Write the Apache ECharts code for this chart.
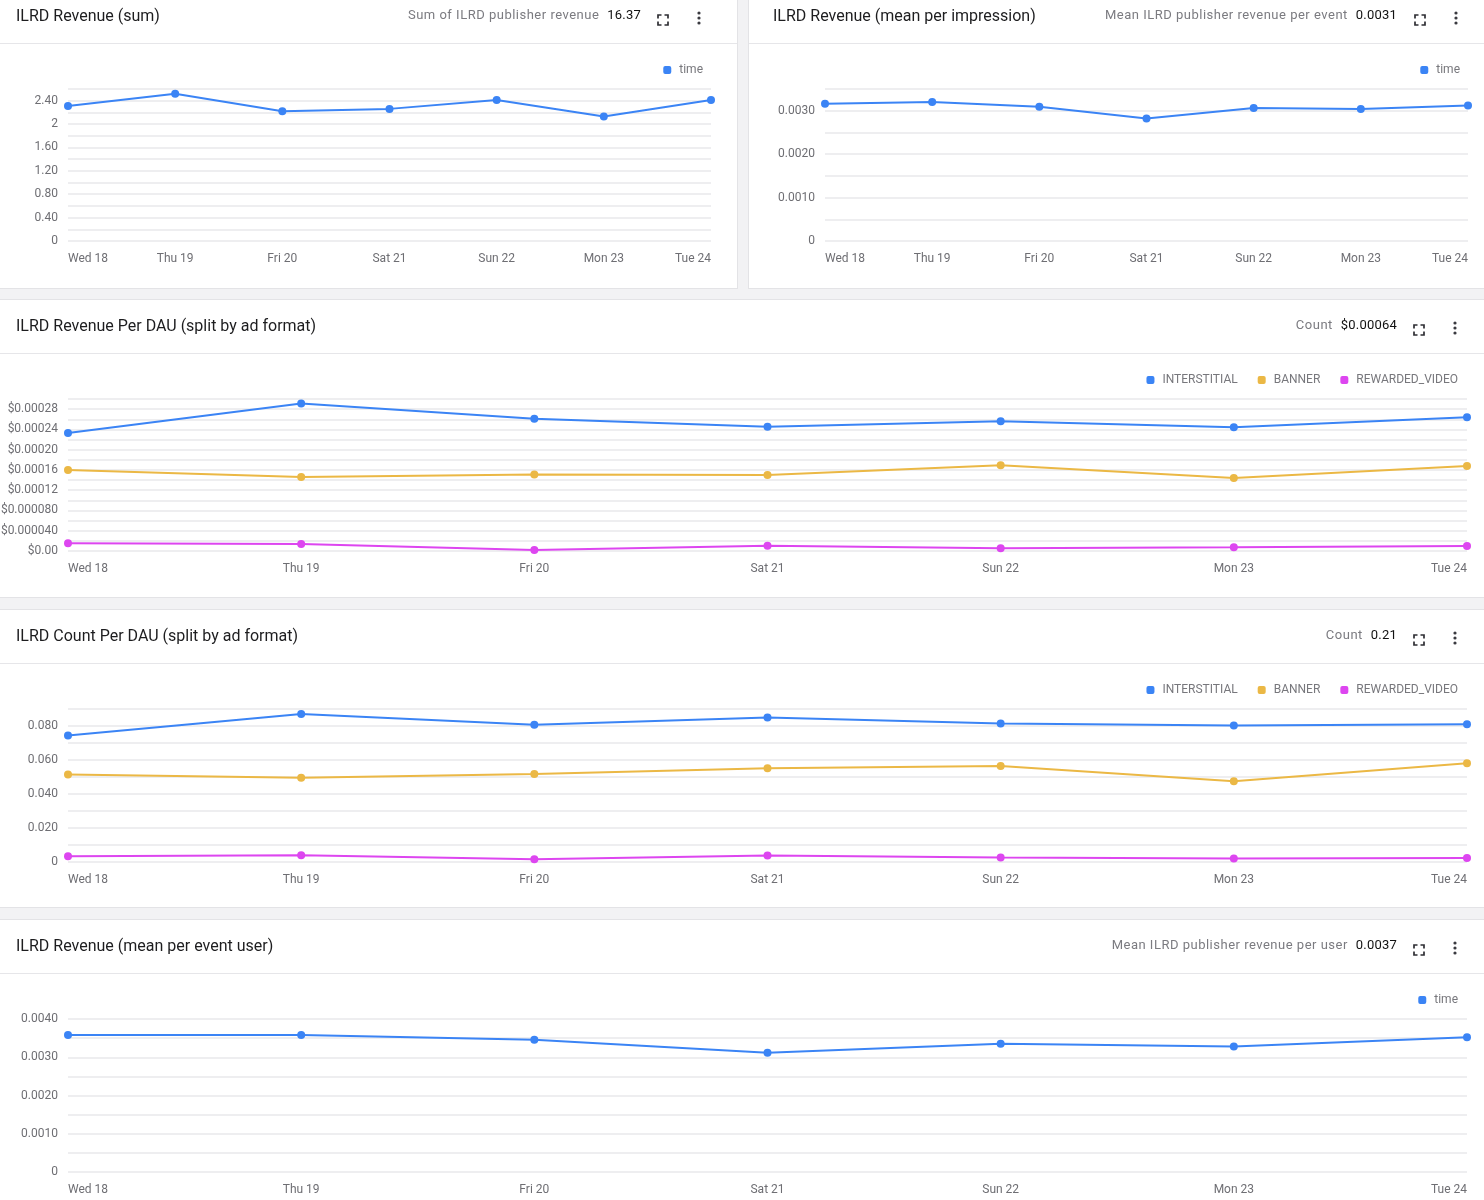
<!DOCTYPE html>
<html>
<head>
<meta charset="utf-8">
<script src="https://cdn.jsdelivr.net/npm/echarts@6/dist/echarts.min.js"></script>
<style>
  html, body { margin: 0; padding: 0; }
  body { width: 1484px; height: 1200px; background: #f2f2f4; position: relative; overflow: hidden; font-family: Roboto, "Noto Sans", sans-serif; }
  .panel { position: absolute; background: #fff; outline: 1px solid #e3e3e6; }
  .chart { position: absolute; left: 0; top: 0; width: 100%; height: 100%; }
  .hline { position: absolute; left: 0; right: 0; height: 1px; background: #e6e6e9; z-index: 2; }
  .title { position: absolute; font-size: 16px; line-height: 20px; color: #1d1d1f; white-space: nowrap; z-index: 3; }
  .meta { position: absolute; font-size: 13px; line-height: 20px; white-space: nowrap; z-index: 3; display: flex; gap: 8px; }
  .meta .lab { color: #7b7b80; letter-spacing: 0.5px; }
  .meta .val { color: #111; letter-spacing: 0.2px; }
  .ico { position: absolute; z-index: 3; }
</style>
</head>
<body>
<script>
// ---------------- data ----------------
const days = ['Wed 18', 'Thu 19', 'Fri 20', 'Sat 21', 'Sun 22', 'Mon 23', 'Tue 24'];

// ILRD Revenue (sum)
const revenueSum = [2.31, 2.52, 2.22, 2.26, 2.41, 2.13, 2.41];
// ILRD Revenue (mean per impression)
const revenueMeanImpression = [0.00316, 0.00320, 0.00309, 0.00282, 0.00306, 0.00304, 0.00312];
// ILRD Revenue Per DAU (split by ad format)
const revDauInterstitial = [0.000233, 0.000291, 0.000261, 0.000245, 0.000256, 0.000244, 0.000264];
const revDauBanner = [0.000160, 0.000146, 0.000151, 0.000150, 0.000169, 0.000144, 0.000168];
const revDauRewarded = [0.0000152, 0.0000138, 0.0000020, 0.0000105, 0.0000053, 0.0000073, 0.0000099];
// ILRD Count Per DAU (split by ad format)
const cntDauInterstitial = [0.0744, 0.0870, 0.0807, 0.0850, 0.0815, 0.0803, 0.0811];
const cntDauBanner = [0.0514, 0.0496, 0.0518, 0.0552, 0.0565, 0.0475, 0.0581];
const cntDauRewarded = [0.0034, 0.0039, 0.0016, 0.0038, 0.0026, 0.0020, 0.0024];
// ILRD Revenue (mean per event user)
const revenueMeanUser = [0.00358, 0.00358, 0.00346, 0.00312, 0.00335, 0.00328, 0.00352];

// header texts
const panels = [
  { title: 'ILRD Revenue (sum)', lab: 'Sum of ILRD publisher revenue', val: '16.37' },
  { title: 'ILRD Revenue (mean per impression)', lab: 'Mean ILRD publisher revenue per event', val: '0.0031' },
  { title: 'ILRD Revenue Per DAU (split by ad format)', lab: 'Count', val: '$0.00064' },
  { title: 'ILRD Count Per DAU (split by ad format)', lab: 'Count', val: '0.21' },
  { title: 'ILRD Revenue (mean per event user)', lab: 'Mean ILRD publisher revenue per user', val: '0.0037' }
];
const formatNames = ['INTERSTITIAL', 'BANNER', 'REWARDED_VIDEO'];
// ---------------------------------------

const C_BLUE = '#3b84f5', C_GOLD = '#ebb845', C_MAG = '#dd46f0';
const FONT = 'Roboto';

// layout: page rects and header geometry
const layout = [
  { x: 0,   y: 0,   w: 737,  h: 288, hdr: 43, tx: 16, ty: 6,  valEnd: 641,  icoX: 663,  kebX: 699,  icoY: 17,
    grid: { left: 68, right: 26, top: 89, bottom: 47 }, leg: { right: 34, top: 64 } },
  { x: 749, y: 0,   w: 735,  h: 288, hdr: 43, tx: 24, ty: 6,  valEnd: 1397 - 749, icoX: 1420 - 749, kebX: 1456 - 749, icoY: 17,
    grid: { left: 76, right: 16, top: 89, bottom: 47 }, leg: { right: 24, top: 64 } },
  { x: 0,   y: 300, w: 1484, h: 297, hdr: 53, tx: 16, ty: 16, valEnd: 1397, icoX: 1419, kebX: 1455, icoY: 27,
    grid: { left: 68, right: 17, top: 99, bottom: 46 }, leg: { right: 26, top: 74 } },
  { x: 0,   y: 610, w: 1484, h: 297, hdr: 53, tx: 16, ty: 16, valEnd: 1397, icoX: 1419, kebX: 1455, icoY: 27,
    grid: { left: 68, right: 17, top: 99, bottom: 45 }, leg: { right: 26, top: 74 } },
  { x: 0,   y: 920, w: 1484, h: 280, hdr: 53, tx: 16, ty: 16, valEnd: 1397, icoX: 1419, kebX: 1455, icoY: 27,
    grid: { left: 68, right: 17, top: 99, bottom: 28 }, leg: { right: 26, top: 74 } }
];

const expandSvg = '<svg width="12" height="12" viewBox="0 0 12 12"><path d="M1 4.5V1h3.5M7.5 1H11v3.5M11 7.5V11H7.5M4.5 11H1V7.5" fill="none" stroke="#2e2e33" stroke-width="1.7"/></svg>';
const kebabSvg = '<svg width="4" height="14" viewBox="0 0 4 14"><circle cx="2" cy="2" r="1.6" fill="#3a3a40"/><circle cx="2" cy="7" r="1.6" fill="#3a3a40"/><circle cx="2" cy="12" r="1.6" fill="#3a3a40"/></svg>';

const chartDivs = [];
layout.forEach((L, i) => {
  const p = document.createElement('div');
  p.className = 'panel';
  p.style.left = L.x + 'px'; p.style.top = L.y + 'px';
  p.style.width = L.w + 'px'; p.style.height = L.h + 'px';
  const P = panels[i];
  p.innerHTML =
    '<div class="chart"></div>' +
    '<div class="hline" style="top:' + L.hdr + 'px"></div>' +
    '<div class="title" style="left:' + L.tx + 'px;top:' + L.ty + 'px">' + P.title + '</div>' +
    '<div class="meta" style="right:' + (L.w - L.valEnd) + 'px;top:' + (L.ty - 1) + 'px"><span class="lab">' + P.lab + '</span><span class="val">' + P.val + '</span></div>' +
    '<div class="ico" style="left:' + (L.icoX - 6) + 'px;top:' + (L.icoY - 6) + 'px">' + expandSvg + '</div>' +
    '<div class="ico" style="left:' + (L.kebX - 2) + 'px;top:' + (L.icoY - 7) + 'px">' + kebabSvg + '</div>';
  document.body.appendChild(p);
  chartDivs.push(p.querySelector('.chart'));
});

function lineSeries(name, data, color) {
  return {
    name: name, type: 'line', data: data,
    symbol: 'circle', symbolSize: 8, showSymbol: true,
    itemStyle: { color: color },
    lineStyle: { color: color, width: 2 },
    emphasis: { disabled: true }
  };
}

function baseOption(L, yAxis, series) {
  return {
    animation: false,
    textStyle: { fontFamily: FONT },
    grid: Object.assign({ containLabel: false, outerBoundsMode: 'none' }, L.grid),
    legend: {
      right: L.leg.right, top: L.leg.top, padding: 0,
      icon: 'roundRect', itemWidth: 8, itemHeight: 8, itemGap: 20,
      textStyle: { color: '#77777c', fontSize: 12, fontFamily: FONT, padding: [0, 0, 0, 3] },
      data: series.map(s => s.name)
    },
    xAxis: {
      type: 'category', data: days, boundaryGap: false,
      axisLine: { show: false }, axisTick: { show: false },
      axisLabel: { color: '#6e6e73', fontSize: 12, fontFamily: FONT, margin: 12, alignMinLabel: 'left', alignMaxLabel: 'right', interval: 0 },
      splitLine: { show: false }
    },
    yAxis: Object.assign({
      type: 'value',
      axisLine: { show: false }, axisTick: { show: false },
      splitLine: { show: true, lineStyle: { color: '#eeeef0', width: 2 } }
    }, yAxis),
    series: series
  };
}

function yLabel() { return { color: '#6e6e73', fontSize: 12, fontFamily: FONT, margin: 10, verticalAlign: 'middle', padding: [4, 0, 0, 0] }; }

const options = [
  baseOption(layout[0], {
    min: 0, max: 2.6, interval: 0.2,
    axisLabel: Object.assign(yLabel(), { formatter: v => {
      const k = Math.round(v / 0.2);
      if (k % 2) return '';
      if (k === 0) return '0';
      return Math.abs(v - Math.round(v)) < 1e-9 ? String(Math.round(v)) : v.toFixed(2);
    } })
  }, [lineSeries('time', revenueSum, C_BLUE)]),
  baseOption(layout[1], {
    min: 0, max: 0.0035, interval: 0.0005,
    axisLabel: Object.assign(yLabel(), { formatter: v => {
      const k = Math.round(v / 0.0005);
      if (k % 2) return '';
      return k === 0 ? '0' : v.toFixed(4);
    } })
  }, [lineSeries('time', revenueMeanImpression, C_BLUE)]),
  baseOption(layout[2], {
    min: 0, max: 0.0003, interval: 0.00002,
    axisLabel: Object.assign(yLabel(), { formatter: v => {
      const k = Math.round(v / 0.00002);
      if (k % 2) return '';
      return k === 0 ? '$0.00' : '$' + (k * 0.00002).toPrecision(2);
    } })
  }, [lineSeries(formatNames[0], revDauInterstitial, C_BLUE),
      lineSeries(formatNames[1], revDauBanner, C_GOLD),
      lineSeries(formatNames[2], revDauRewarded, C_MAG)]),
  baseOption(layout[3], {
    min: 0, max: 0.09, interval: 0.01,
    axisLabel: Object.assign(yLabel(), { formatter: v => {
      const k = Math.round(v / 0.01);
      if (k % 2) return '';
      return k === 0 ? '0' : (k * 0.01).toFixed(3);
    } })
  }, [lineSeries(formatNames[0], cntDauInterstitial, C_BLUE),
      lineSeries(formatNames[1], cntDauBanner, C_GOLD),
      lineSeries(formatNames[2], cntDauRewarded, C_MAG)]),
  baseOption(layout[4], {
    min: 0, max: 0.004, interval: 0.0005,
    axisLabel: Object.assign(yLabel(), { formatter: v => {
      const k = Math.round(v / 0.0005);
      if (k % 2) return '';
      return k === 0 ? '0' : (k * 0.0005).toFixed(4);
    } })
  }, [lineSeries('time', revenueMeanUser, C_BLUE)])
];

chartDivs.forEach((d, i) => {
  const c = echarts.init(d, null, { renderer: 'canvas' });
  c.setOption(options[i]);
});
</script>
</body>
</html>
